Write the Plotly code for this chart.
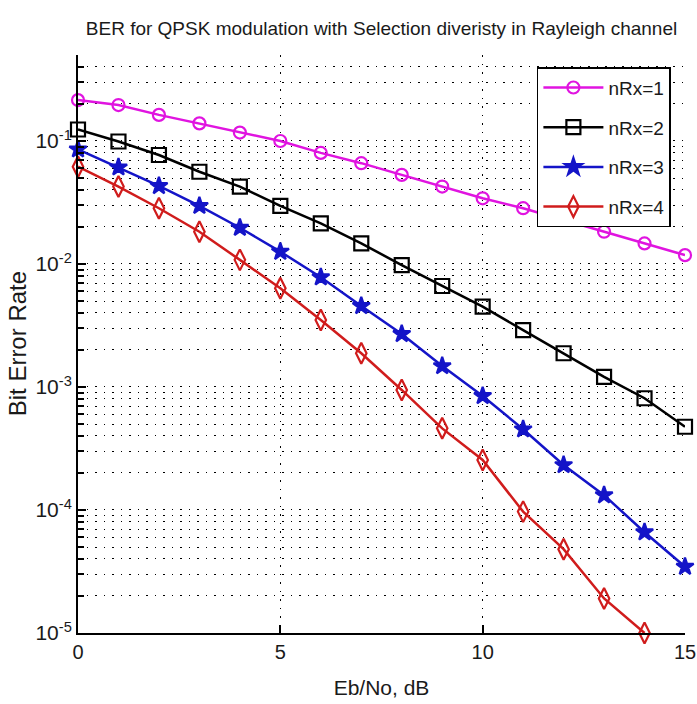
import plotly.graph_objects as go

# Eb/No sweep in dB
ebno_db = list(range(0, 16))

# Simulated bit error rate for each number of receive antennas
ber_nrx1 = [0.215, 0.196, 0.163, 0.139, 0.117, 0.100, 0.080, 0.066,
            0.053, 0.0426, 0.0342, 0.0284, 0.0228, 0.0183, 0.0147, 0.0118]
ber_nrx2 = [0.124, 0.099, 0.0769, 0.0562, 0.0425, 0.0297, 0.0214, 0.0147,
            0.0098, 0.00662, 0.0045, 0.0029, 0.00188, 0.00121, 0.00081, 0.000475]
ber_nrx3 = [0.0855, 0.0611, 0.0431, 0.0297, 0.0197, 0.0126, 0.0078, 0.00456,
            0.0027, 0.00148, 0.000845, 0.000453, 0.000232, 0.000132, 6.6e-05, 3.46e-05]
ber_nrx4 = [0.0618, 0.0426, 0.0284, 0.0183, 0.0108, 0.00634, 0.0035, 0.00188,
            0.000946, 0.000461, 0.000255, 9.7e-05, 4.8e-05, 1.91e-05, 1.0e-05]

series_names = ["nRx=1", "nRx=2", "nRx=3", "nRx=4"]

# Decade ticks on the BER axis
ber_tick_vals = [1e-5, 1e-4, 1e-3, 1e-2, 1e-1]
ber_tick_text = ["10<sup>-5</sup>", "10<sup>-4</sup>", "10<sup>-3</sup>",
                 "10<sup>-2</sup>", "10<sup>-1</sup>"]

FONT = "Liberation Sans, Arial, Helvetica, sans-serif"
TEXT = "#1a1a1a"

styles = [
    dict(color="#e014e0", symbol="circle-open", size=12),
    dict(color="#000000", symbol="square-open", size=14),
    dict(color="#1414c8", symbol="star", size=13),
    dict(color="#d01c1c", symbol="diamond-tall-open", size=15),
]

fig = go.Figure()
for name, ys, st in zip(series_names,
                        [ber_nrx1, ber_nrx2, ber_nrx3, ber_nrx4],
                        styles):
    fig.add_trace(go.Scatter(
        x=ebno_db[:len(ys)], y=ys, name=name, mode="lines+markers",
        line=dict(color=st["color"], width=2.5),
        marker=dict(symbol=st["symbol"], size=st["size"], color=st["color"],
                    line=dict(color=st["color"], width=2.2)),
        cliponaxis=False, legendgroup=name,
    ))

grid_dash = "1.5px,7px"

fig.update_layout(
    width=697, height=704,
    margin=dict(l=78, r=12, t=55, b=71),
    paper_bgcolor="white", plot_bgcolor="white",
    font=dict(family=FONT, size=20, color=TEXT),
    title=dict(text="BER for QPSK modulation with Selection diveristy in Rayleigh channel",
               x=0.5, xref="paper", xanchor="center",
               y=1 - 28 / 704, yref="container", yanchor="middle",
               font=dict(family=FONT, size=19, color=TEXT)),
    xaxis=dict(
        range=[0, 15], dtick=5, tick0=0, automargin=False,
        ticks="inside", ticklen=8, tickwidth=1.5, tickcolor="black",
        showline=True, linecolor="black", linewidth=2, mirror=False,
        showgrid=True, gridcolor="black", gridwidth=1.2, griddash=grid_dash,
        zeroline=False, tickfont=dict(size=20),
        title=dict(text="Eb/No, dB", standoff=18, font=dict(size=21)),
    ),
    yaxis=dict(
        type="log", range=[-5, 0.69897 - 1], automargin=False,
        tickmode="array", tickvals=ber_tick_vals, ticktext=ber_tick_text,
        ticks="inside", ticklen=8, tickwidth=1.5, tickcolor="black",
        showline=True, linecolor="black", linewidth=2, mirror=False,
        showgrid=True, gridcolor="black", gridwidth=1.2, griddash=grid_dash,
        zeroline=False, tickfont=dict(size=21),
        minor=dict(dtick="D1", ticks="inside", ticklen=6, tickwidth=1.5,
                   tickcolor="black", showgrid=True, gridcolor="black",
                   gridwidth=1.2, griddash=grid_dash),
    ),
    legend=dict(
        x=0.756, y=0.979, xanchor="left", yanchor="top",
        bgcolor="white", bordercolor="black", borderwidth=1.5,
        font=dict(family=FONT, size=19, color=TEXT),
        tracegroupgap=12, itemwidth=60,
    ),
)

# Vertical axis label placed beside the tick labels
fig.add_annotation(
    text="Bit Error Rate", textangle=-90, showarrow=False,
    xref="paper", yref="paper", x=-0.1, y=0.5,
    xanchor="center", yanchor="middle",
    font=dict(family=FONT, size=24, color=TEXT),
)

fig.write_html("out.html")
